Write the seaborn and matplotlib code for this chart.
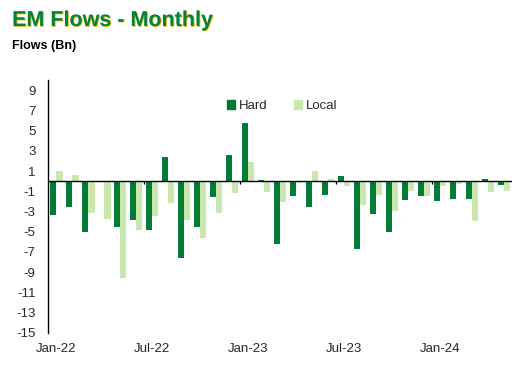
import numpy as np
import pandas as pd
import seaborn as sns
import matplotlib.pyplot as plt
import matplotlib.patheffects as pe
from matplotlib.patches import Patch

# monthly flows, Jan-22 .. May-24
months = pd.date_range("2022-01-01", "2024-05-01", freq="MS").strftime("%b-%y").tolist()
hard = [-3.3, -2.6, -5.0, 0.0, -4.5, -3.8, -4.8, 2.4, -7.6, -4.5, -1.6, 2.6, 5.7,
        0.1, -6.2, -1.5, -2.6, -1.4, 0.5, -6.7, -3.2, -5.0, -1.9, -1.5, -2.0, -1.8,
        -1.8, 0.2, -0.4]
local = [1.0, 0.6, -3.1, -3.7, -9.6, -4.8, -3.4, -2.2, -3.8, -5.6, -3.1, -1.2, 1.9,
         -1.1, -2.1, -0.2, 1.0, 0.2, -0.5, -2.4, -1.4, -2.9, -1.0, -1.5, -0.5, -0.3,
         -3.9, -1.1, -1.0]
yticks = list(range(-15, 10, 2))

dark = "#007A37"
light = "#CAE8AE"

df = pd.DataFrame({
    "month": months * 2,
    "flow": hard + local,
    "type": ["Hard"] * len(months) + ["Local"] * len(months),
})

sns.set_style("white")
plt.rcParams["font.family"] = ["Liberation Sans", "DejaVu Sans"]

fig = plt.figure(figsize=(5.23, 3.72), dpi=100)
ax = fig.add_axes([0.092, 0.105, 0.887, 0.68])

sns.barplot(data=df, x="month", y="flow", hue="type", order=months,
            palette={"Hard": dark, "Local": light}, width=0.8, gap=0,
            saturation=1, legend=False, linewidth=0, ax=ax)

n = len(months)
ax.set_xlim(-0.5, n - 0.5)
ax.set_ylim(-15, 10)
ax.set_yticks(yticks)
ax.set_yticklabels([str(t) for t in yticks], fontsize=9.5)
ax.tick_params(axis="y", length=0, pad=9)

ax.set_xticks(range(0, n, 6))
ax.set_xticklabels([months[i] for i in range(0, n, 6)], fontsize=9.5)
ax.tick_params(axis="x", length=0, pad=7)
ax.set_xlabel("")
ax.set_ylabel("")

# zero line with small ticks between categories
ax.axhline(0, color="black", lw=1, zorder=3)
ax.vlines(np.arange(0, n, 6)[1:] - 0.5, -0.3, 0, color="black", lw=1, zorder=3)

for s in ["top", "right", "bottom"]:
    ax.spines[s].set_visible(False)
ax.spines["left"].set_color("black")
ax.spines["left"].set_linewidth(1)

handles = [Patch(color=dark, label="Hard"), Patch(color=light, label="Local")]
ax.legend(handles=handles, loc="center", bbox_to_anchor=(0.505, 0.897), ncol=2,
          frameon=False, fontsize=9.5, handlelength=0.6, handleheight=0.6,
          handletextpad=0.3, columnspacing=2.0)

fig.text(0.023, 0.945, "EM Flows - Monthly", fontsize=15.5, fontweight="bold",
         color="#00843D", va="center",
         path_effects=[pe.SimplePatchShadow(offset=(0.6, -0.6),
                                            shadow_rgbFace="#E8B000", alpha=1),
                       pe.Normal()])
fig.text(0.023, 0.877, "Flows (Bn)", fontsize=9, fontweight="bold",
         color="black", va="center")

fig.savefig("out.png", dpi=100)
